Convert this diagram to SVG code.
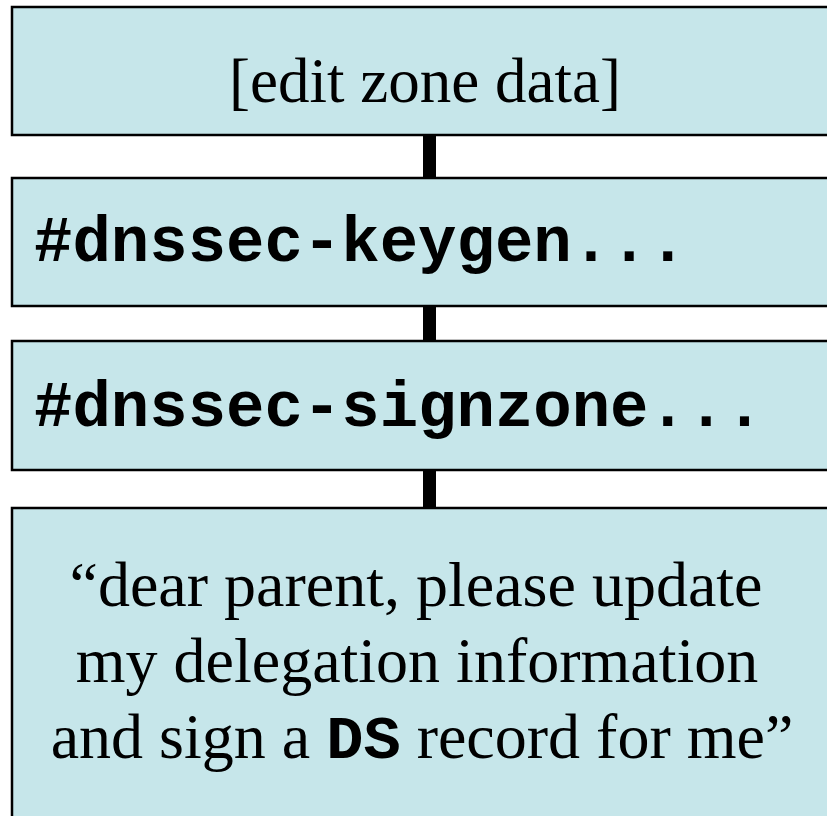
<svg xmlns="http://www.w3.org/2000/svg" width="827" height="816" viewBox="0 0 827 816">
<style>
.box{fill:#c6e6ea;stroke:#000;stroke-width:2.5}
.serif{font-family:"Liberation Serif","Times New Roman",serif;font-size:63px;fill:#000}
.body{font-size:64px}
.mono{font-family:"Liberation Mono","Courier New",monospace;font-weight:bold;font-size:64px;fill:#000}
.ds{font-size:62px}
.conn{fill:#000}
</style>
<rect width="827" height="816" fill="#fff"/>
<g id="connectors">
<rect class="conn" x="423" y="135" width="13" height="43"/>
<rect class="conn" x="423" y="306" width="13" height="35"/>
<rect class="conn" x="423" y="470" width="13" height="38"/>
</g>
<g id="node1">
<rect class="box" x="12" y="7" width="830" height="128"/>
<text class="serif" x="425" y="102" text-anchor="middle">[edit zone data]</text>
</g>
<g id="node2">
<rect class="box" x="12" y="178" width="830" height="128"/>
<text class="mono" x="34" y="261">#dnssec-keygen...</text>
</g>
<g id="node3">
<rect class="box" x="12" y="341" width="830" height="129"/>
<text class="mono" x="34" y="426">#dnssec-signzone...</text>
</g>
<g id="node4">
<rect class="box" x="12" y="508" width="830" height="330"/>
<text class="serif body" text-anchor="middle">
<tspan x="424" y="606">“dear parent, please update</tspan>
<tspan x="425" y="682">my delegation information</tspan>
<tspan x="422" y="758">and sign a <tspan class="mono ds">DS</tspan> record for me”</tspan>
</text>
</g>
</svg>
